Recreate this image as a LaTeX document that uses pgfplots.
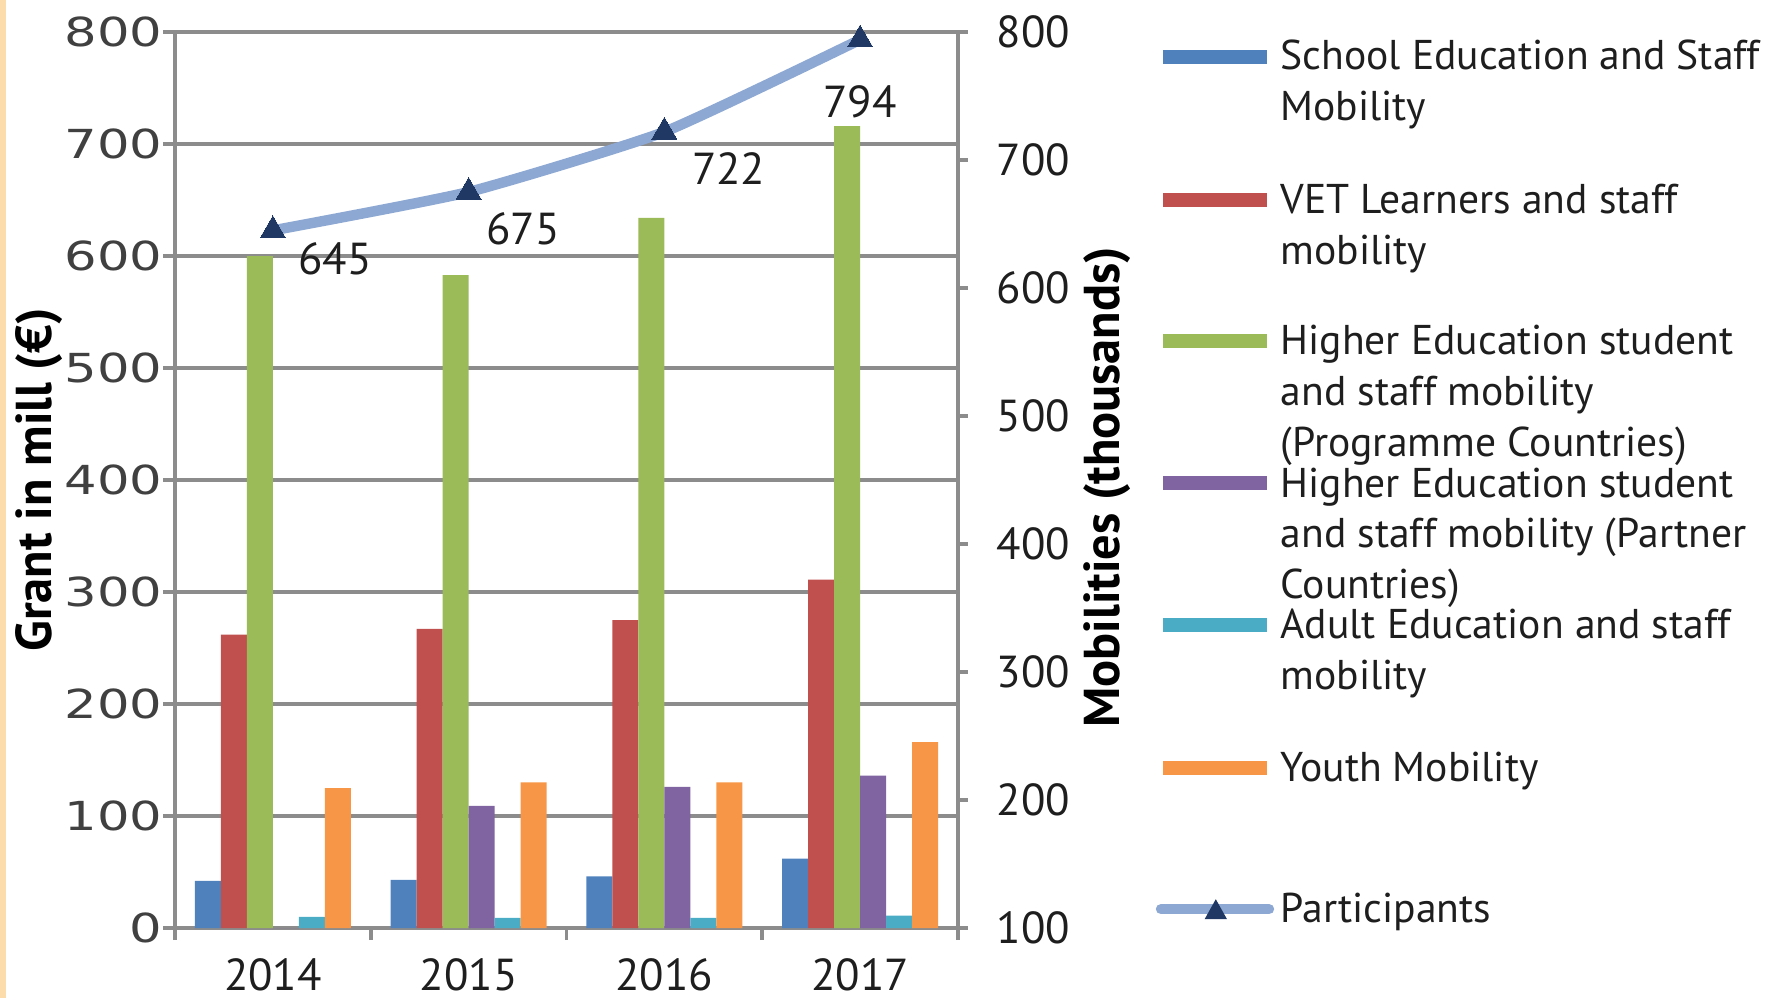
\documentclass[border=0pt]{standalone}
\usepackage{pgfplots}
\pgfplotsset{compat=1.18}
\usepackage{fontspec}
\setmainfont{PT Sans}
\newfontfamily\tickfont[FakeStretch=1.28]{DejaVu Sans}
\definecolor{cBlue}{HTML}{4F81BD}
\definecolor{cRed}{HTML}{C0504D}
\definecolor{cGreen}{HTML}{9BBB59}
\definecolor{cPurple}{HTML}{8064A2}
\definecolor{cCyan}{HTML}{4BACC6}
\definecolor{cOrange}{HTML}{F79646}
\definecolor{lineblue}{HTML}{8DA8D3}
\definecolor{markblue}{HTML}{1F3864}
\definecolor{gridgrey}{HTML}{8C8C8C}
\definecolor{tickgrey}{HTML}{404040}
\definecolor{txt}{HTML}{1E1E1E}
\definecolor{peach}{HTML}{FCDCAA}
\begin{document}
\begin{tikzpicture}
\fill[peach] (-43.75bp,-17.5bp) rectangle (-42.2bp,232bp);
\path[use as bounding box] (-43.75bp,-17.5bp) rectangle (399bp,232bp);
\begin{axis}[
  scale only axis, width=195.75bp, height=224bp,
  xmin=-0.5, xmax=3.5, ymin=0, ymax=800,
  ybar=0pt, bar width=0.133,
  axis x line*=bottom, axis y line*=left,
  axis line style={line width=0.9bp, color=gridgrey, -},
  xtick={-0.5,0.5,1.5,2.5,3.5},
  x tick label as interval,
  xticklabels={2014,2015,2016,2017},
  ytick={0,100,...,800},
  ymajorgrids,
  grid style={line width=1.1bp, color=gridgrey},
  tick style={line width=0.9bp, color=gridgrey},
  tick align=outside, major tick length=3bp,
  /pgf/number format/assume math mode=true,
  yticklabel style={font=\tickfont\fontsize{10bp}{12bp}\selectfont, color=tickgrey, xshift=3.4bp},
  xticklabel style={font=\fontsize{11.2bp}{13bp}\selectfont, color=txt, yshift=-1.2bp},
  ylabel={\bfseries Grant in mill (€)},
  every axis y label/.style={at={(axis description cs:-0.174,0.5)}, anchor=center, rotate=90, font=\fontsize{12.6bp}{14bp}\selectfont},
]
\addplot[draw=none, fill=cBlue] coordinates {(0,42) (1,43) (2,46) (3,62)};
\addplot[draw=none, fill=cRed] coordinates {(0,262) (1,267) (2,275) (3,311)};
\addplot[draw=none, fill=cGreen] coordinates {(0,600) (1,583) (2,634) (3,716)};
\addplot[draw=none, fill=cPurple] coordinates {(0,0) (1,109) (2,126) (3,136)};
\addplot[draw=none, fill=cCyan] coordinates {(0,10) (1,9) (2,9) (3,11)};
\addplot[draw=none, fill=cOrange] coordinates {(0,125) (1,130) (2,130) (3,166)};
\end{axis}
\begin{axis}[
  scale only axis, width=195.75bp, height=224bp,
  xmin=-0.5, xmax=3.5, ymin=100, ymax=800,
  axis y line*=right, axis x line=none,
  axis line style={line width=0.9bp, color=gridgrey, -},
  ytick={100,200,...,800},
  tick style={line width=0.9bp, color=gridgrey},
  tick align=outside, major tick length=2.5bp,
  /pgf/number format/assume math mode=true,
  yticklabel style={font=\fontsize{11.2bp}{13bp}\selectfont, color=txt, xshift=3.7bp},
  ylabel={\bfseries Mobilities (thousands)},
  every axis y label/.style={at={(axis description cs:1.19,0.492)}, anchor=center, rotate=90, font=\fontsize{12.6bp}{14bp}\selectfont},
]
\addplot[line width=2.6bp, color=lineblue, smooth, tension=0.3, line join=round,
  mark=triangle*, mark size=3.6bp, mark options={fill=markblue, draw=markblue, line width=0pt}]
  coordinates {(0,645) (1,675) (2,722) (3,794)};
\node[font=\fontsize{11.2bp}{13bp}\selectfont, text=txt, xshift=15.5bp, yshift=-7.1bp] at (axis cs:0,645) {645};
\node[font=\fontsize{11.2bp}{13bp}\selectfont, text=txt, xshift=13.6bp, yshift=-9.3bp] at (axis cs:1,675) {675};
\node[font=\fontsize{11.2bp}{13bp}\selectfont, text=txt, xshift=16.1bp, yshift=-9.3bp] at (axis cs:2,722) {722};
\node[font=\fontsize{11.2bp}{13bp}\selectfont, text=txt, yshift=-15.5bp] at (axis cs:3,794) {794};
\end{axis}
% legend
\begin{scope}[every node/.style={anchor=base west, inner sep=0pt, text=txt, font=\fontsize{10.4bp}{12.7bp}\selectfont}]
\fill[cBlue]   (247bp,216.1bp) rectangle (273bp,219.6bp);
\node at (276.2bp,214.5bp) {School Education and Staff};
\node at (276.2bp,201.8bp) {Mobility};
\fill[cRed]    (247bp,180.3bp) rectangle (273bp,183.8bp);
\node at (276.2bp,178.6bp) {VET Learners and staff};
\node at (276.2bp,165.9bp) {mobility};
\fill[cGreen]  (247bp,145.0bp) rectangle (273bp,148.5bp);
\node at (276.2bp,143.3bp) {Higher Education student};
\node at (276.2bp,130.6bp) {and staff mobility};
\node at (276.2bp,117.9bp) {(Programme Countries)};
\fill[cPurple] (247bp,109.4bp) rectangle (273bp,112.9bp);
\node at (276.2bp,107.7bp) {Higher Education student};
\node at (276.2bp,95.0bp) {and staff mobility (Partner};
\node at (276.2bp,82.3bp) {Countries)};
\fill[cCyan]   (247bp,74.1bp) rectangle (273bp,77.6bp);
\node at (276.2bp,72.4bp) {Adult Education and staff};
\node at (276.2bp,59.7bp) {mobility};
\fill[cOrange] (247bp,38.2bp) rectangle (273bp,41.7bp);
\node at (276.2bp,36.6bp) {Youth Mobility};
\draw[line width=2.6bp, color=lineblue, line cap=round] (246.5bp,4.7bp) -- (273.5bp,4.7bp);
\fill[markblue] (260.2bp,7.2bp) -- (257.4bp,2.2bp) -- (263bp,2.2bp) -- cycle;
\node at (276.2bp,1.3bp) {Participants};
\end{scope}
\end{tikzpicture}
\end{document}
